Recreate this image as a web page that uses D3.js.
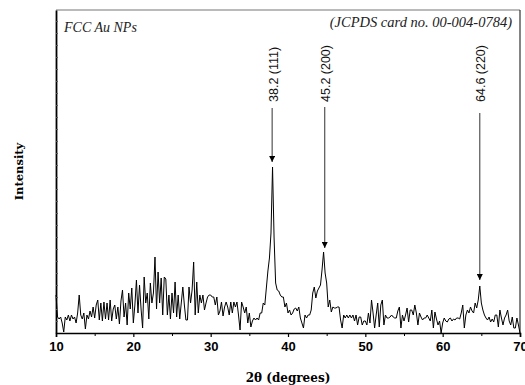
<!DOCTYPE html>
<html>
<head>
<meta charset="utf-8">
<script src="https://cdn.jsdelivr.net/npm/d3@7"></script>
<style>
  html, body { margin: 0; padding: 0; background: #fff; }
  svg { display: block; }
</style>
</head>
<body>
<svg id="chart" width="525" height="385"></svg>
<script>
// ---- data ----
const twoThetaStart = 10;
const twoThetaStep = 0.2;
// intensity (a.u.), one value every 0.2 degrees from 10 to 70
const intensity = [
  38, 16, 14, 16, 10,   // 10
  1, 16, 13, 18, 12,    // 11
  18, 14, 16, 10, 20,   // 12
  38, 18, 14, 20, 4,    // 13
  18, 14, 22, 16, 26,   // 14
  15, 28, 33, 13, 30,   // 15
  12, 31, 14, 30, 13,   // 16
  33, 12, 24, 28, 14,   // 17
  26, 9, 32, 43, 16,    // 18
  30, 8, 40, 24, 45,    // 19
  10, 28, 53, 20, 48,   // 20
  24, 5, 56, 30, 40,    // 21
  14, 50, 30, 40, 76,   // 22
  24, 61, 30, 55, 18,   // 23
  56, 54, 18, 38, 14,   // 24
  40, 20, 51, 16, 38,   // 25
  14, 30, 46, 28, 13,   // 26
  13, 46, 30, 43, 71,   // 27
  18, 51, 20, 38, 30,   // 28
  38, 23, 30, 36, 38,   // 29
  38, 36, 36, 28, 36,   // 30
  18, 22, 31, 17, 26,   // 31
  31, 26, 18, 31, 20,   // 32
  31, 26, 31, 18, 3,    // 33
  31, 26, 20, 26, 10,   // 34
  20, 6, 12, 15, 13,    // 35
  15, 13, 20, 20, 30,   // 36
  28, 45, 62, 75, 100,  // 37
  166, 95, 50, 43, 42,  // 38
  38, 36, 36, 26, 30,   // 39
  20, 23, 18, 20, 24,   // 40
  25, 22, 26, 15, 10,   // 41
  5, 18, 15, 18, 18,    // 42
  23, 40, 46, 35, 42,   // 43
  45, 48, 63, 81, 60,   // 44
  50, 26, 33, 21, 26,   // 45
  25, 25, 26, 26, 13,   // 46
  5, 18, 15, 18, 15,    // 47
  18, 15, 18, 12, 18,   // 48
  8, 16, 16, 8, 12,     // 49
  12, 8, 20, 10, 33,    // 50
  20, 5, 18, 30, 6,     // 51
  28, 33, 8, 18, 15,    // 52
  15, 16, 18, 16, 15,   // 53
  15, 22, 26, 5, 18,    // 54
  12, 18, 25, 11, 23,   // 55
  23, 18, 28, 20, 8,    // 56
  20, 16, 13, 15, 15,   // 57
  18, 15, 12, 23, 5,    // 58
  21, 14, 8, 12, 0,     // 59
  10, 15, 12, 11, 14,   // 60
  15, 12, 14, 13, 15,   // 61
  15, 14, 20, 28, 5,    // 62
  18, 23, 20, 26, 22,   // 63
  20, 30, 25, 33, 47,   // 64
  30, 23, 18, 15, 13,   // 65
  16, 11, 14, 11, 18,   // 66
  18, 6, 23, 15, 8,     // 67
  15, 18, 23, 12, 8,    // 68
  16, 5, 5, 15, 8,      // 69
  0                     // 70
];

const xTicks = [10, 20, 30, 40, 50, 60, 70];
const xMinorTicks = [15, 25, 35, 45, 55, 65];

const peakLabels = ["38.2 (111)", "45.2 (200)", "64.6 (220)"];
const peakArrowX = [37.95, 44.75, 64.8];
const peakArrowTip = [171, 85, 53];
const peakArrowTail = [225, 226, 220];
const peakLabelBase = 231;

const sampleLabel = "FCC Au NPs";
const cardLabel = "(JCPDS card no. 00-004-0784)";
const xTitle = "2θ (degrees)";
const yTitle = "Intensity";

// ---- drawing ----
(function () {
const svg = d3.select("#chart");
const pLeft = 56, pRight = 520, pTop = 10, pBottom = 333;

const x = d3.scaleLinear().domain([10, 70]).range([pLeft, pRight]);
const y = d3.scaleLinear().domain([0, 323]).range([pBottom, pTop]);

const data = intensity.map((v, i) => ({ t: twoThetaStart + i * twoThetaStep, v }));

// frame top/right
svg.append("line").attr("x1", pLeft).attr("x2", pRight).attr("y1", pTop).attr("y2", pTop)
  .attr("stroke", "#777").attr("stroke-width", 1.2);
svg.append("line").attr("x1", pRight).attr("x2", pRight).attr("y1", pTop).attr("y2", pBottom)
  .attr("stroke", "#333").attr("stroke-width", 1.2);

// data line
svg.append("path").datum(data)
  .attr("fill", "none").attr("stroke", "#000").attr("stroke-width", 1)
  .attr("d", d3.line().x(d => x(d.t)).y(d => y(d.v)));

// x axis
const xAxis = svg.append("g").attr("transform", `translate(0,${pBottom})`)
  .call(d3.axisBottom(x).tickValues(xTicks).tickSize(4).tickPadding(5).tickFormat(d3.format("d")));
xAxis.select(".domain").attr("stroke", "#000").attr("stroke-width", 1.6);
xAxis.selectAll(".tick line").attr("stroke", "#000").attr("stroke-width", 1.2);
xAxis.selectAll(".tick text")
  .attr("font-family", "Liberation Sans, Arial, sans-serif")
  .attr("font-weight", "bold").attr("font-size", 13).attr("fill", "#000");
svg.append("g").attr("transform", `translate(0,${pBottom})`)
  .call(d3.axisBottom(x).tickValues(xMinorTicks).tickSize(3).tickFormat(""))
  .call(g => g.select(".domain").remove())
  .selectAll(".tick line").attr("stroke", "#000").attr("stroke-width", 1);

// y axis (no labels, small inside ticks)
const yAxis = svg.append("g").attr("transform", `translate(${pLeft},0)`)
  .call(d3.axisRight(y).tickValues(d3.range(12, 323, 12)).tickSize(2).tickSizeOuter(0).tickFormat(""));
yAxis.select(".domain").attr("stroke", "#000").attr("stroke-width", 1.8);
yAxis.selectAll(".tick line").attr("stroke", "#555").attr("stroke-width", 1);

// peak annotations
const defs = svg.append("defs");
defs.append("marker").attr("id", "arrow")
  .attr("viewBox", "0 0 10 10").attr("refX", 10).attr("refY", 5)
  .attr("markerWidth", 8).attr("markerHeight", 6).attr("markerUnits", "userSpaceOnUse")
  .attr("orient", "auto")
  .append("path").attr("d", "M0,0 L10,5 L0,10 Z").attr("fill", "#000");

peakLabels.forEach((lab, i) => {
  const px = x(peakArrowX[i]);
  svg.append("line")
    .attr("x1", px).attr("x2", px)
    .attr("y1", y(peakArrowTail[i])).attr("y2", y(peakArrowTip[i]))
    .attr("stroke", "#444").attr("stroke-width", 1.1)
    .attr("marker-end", "url(#arrow)");
  svg.append("text")
    .attr("transform", `translate(${px + 1},${y(peakLabelBase)}) rotate(-90)`)
    .attr("dy", "0.35em")
    .attr("font-family", "Liberation Sans, Arial, sans-serif")
    .attr("font-size", 12.5).attr("fill", "#111")
    .text(lab);
});

// corner labels
svg.append("text").attr("x", 64).attr("y", 32)
  .attr("font-family", "Liberation Serif, Times New Roman, serif")
  .attr("font-style", "italic").attr("font-size", 14).attr("fill", "#222")
  .text(sampleLabel);
svg.append("text").attr("x", 512).attr("y", 27).attr("text-anchor", "end")
  .attr("font-family", "Liberation Serif, Times New Roman, serif")
  .attr("font-style", "italic").attr("font-size", 14.5).attr("fill", "#222")
  .text(cardLabel);

// axis titles
svg.append("text").attr("x", 288).attr("y", 382).attr("text-anchor", "middle")
  .attr("font-family", "DejaVu Serif, serif").attr("font-weight", "bold")
  .attr("font-size", 12).attr("fill", "#000")
  .text(xTitle);
svg.append("text")
  .attr("transform", `translate(19,${(pTop + pBottom) / 2}) rotate(-90)`)
  .attr("text-anchor", "middle").attr("dy", "0.35em")
  .attr("font-family", "DejaVu Serif, serif").attr("font-weight", "bold")
  .attr("font-size", 11.5).attr("fill", "#000")
  .text(yTitle);
})();
</script>
</body>
</html>
